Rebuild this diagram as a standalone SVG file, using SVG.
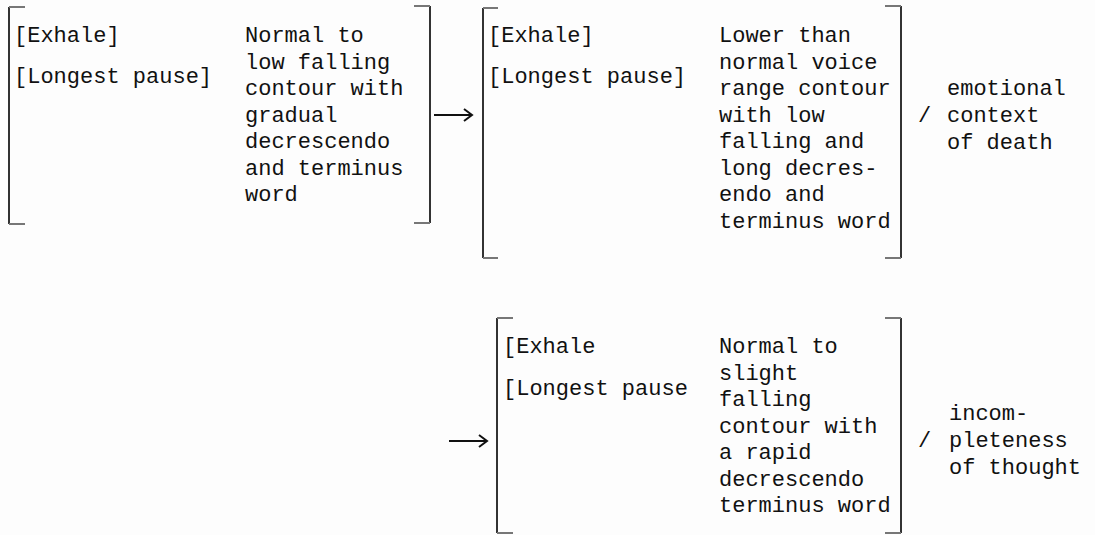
<svg xmlns="http://www.w3.org/2000/svg" width="1095" height="535" viewBox="0 0 1095 535">
<style>
text{font-family:"Liberation Mono","Courier New",monospace;font-size:22px;fill:#111}
.br{fill:none;stroke:#333;stroke-width:2}
.tk{fill:none;stroke:#777;stroke-width:2}
.ar{fill:none;stroke:#111;stroke-width:2}
</style>
<rect width="1095" height="535" fill="#fdfdfd"/>
<g id="node1">
<path class="br" d="M9 7V224"/><path class="tk" d="M9 7H25M9 224H25"/>
<path class="br" d="M430 6V223"/><path class="tk" d="M414 6H430M414 223H430"/>
<text x="14" y="42">[Exhale]</text>
<text x="14" y="83">[Longest pause]</text>
<text x="245"><tspan x="245" y="42">Normal to</tspan><tspan x="245" y="68.5">low falling</tspan><tspan x="245" y="95">contour with</tspan><tspan x="245" y="121.5">gradual</tspan><tspan x="245" y="148">decrescendo</tspan><tspan x="245" y="174.5">and terminus</tspan><tspan x="245" y="201">word</tspan></text>
</g>
<g id="node2">
<path class="br" d="M483 8V258"/><path class="tk" d="M483 8H498M483 258H498"/>
<path class="br" d="M901 6V258"/><path class="tk" d="M885 6H901M885 258H901"/>
<text x="488" y="42">[Exhale]</text>
<text x="488" y="83">[Longest pause]</text>
<text><tspan x="719" y="42">Lower than</tspan><tspan x="719" y="68.5">normal voice</tspan><tspan x="719" y="95">range contour</tspan><tspan x="719" y="121.5">with low</tspan><tspan x="719" y="148">falling and</tspan><tspan x="719" y="174.5">long decres-</tspan><tspan x="719" y="201">endo and</tspan><tspan x="719" y="227.5">terminus word</tspan></text>
</g>
<g id="label1">
<text x="918" y="122">/</text>
<text><tspan x="947" y="95">emotional</tspan><tspan x="947" y="122">context</tspan><tspan x="947" y="149">of death</tspan></text>
</g>
<g id="node3">
<path class="br" d="M497 318V533"/><path class="tk" d="M497 318H513M497 533H513"/>
<path class="br" d="M901 318V533"/><path class="tk" d="M885 318H901M885 533H901"/>
<text x="503" y="353">[Exhale</text>
<text x="503" y="395">[Longest pause</text>
<text><tspan x="719" y="353">Normal to</tspan><tspan x="719" y="379.5">slight</tspan><tspan x="719" y="406">falling</tspan><tspan x="719" y="432.5">contour with</tspan><tspan x="719" y="459">a rapid</tspan><tspan x="719" y="485.5">decrescendo</tspan><tspan x="719" y="512">terminus word</tspan></text>
</g>
<g id="label2">
<text x="918" y="447">/</text>
<text><tspan x="949" y="420">incom-</tspan><tspan x="949" y="447">pleteness</tspan><tspan x="949" y="474">of thought</tspan></text>
</g>
<g id="connectors">
<path class="ar" d="M434 115H472M464 109L472 115L464 121"/>
<path class="ar" d="M449 441H487M479 435L487 441L479 447"/>
</g>
</svg>
